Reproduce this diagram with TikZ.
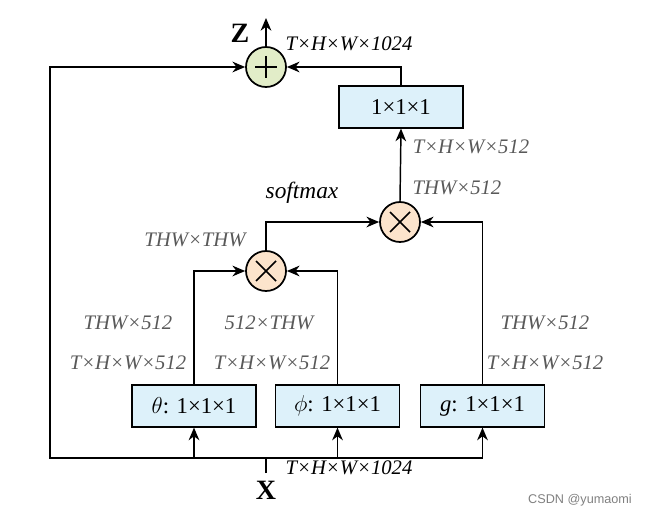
\documentclass[tikz,border=0pt]{standalone}
\usepackage{fontspec}
\setmainfont{Liberation Serif}
\newfontfamily\markfont{Liberation Sans}
\usetikzlibrary{arrows.meta}

\definecolor{convblue}{RGB}{221,241,250}
\definecolor{sumgreen}{RGB}{226,237,200}
\definecolor{mulpeach}{RGB}{252,228,204}
\definecolor{dimgray}{RGB}{89,89,89}

\begin{document}
\begin{tikzpicture}[x=0.75pt, y=-0.75pt,
	conv/.style = {draw, line width=1.4pt, fill=convblue, minimum width=93pt, minimum height=31pt, inner sep=0pt, font=\fontsize{17}{20}\selectfont},
	opnode/.style = {circle, draw, line width=1.3pt, minimum size=30pt, inner sep=0pt},
	arr/.style = {line width=1.1pt, -{Stealth[length=9.5pt, width=8pt, inset=3pt]}},
	wire/.style = {line width=1.1pt},
	dimlabel/.style = {font=\fontsize{15.5}{18}\selectfont\itshape, text=dimgray},
	shapelabel/.style = {font=\fontsize{15.5}{18}\selectfont\itshape},
	tensor/.style = {font=\fontsize{21}{24}\selectfont\bfseries}]
	\useasboundingbox (0,0) rectangle (645,517);

	% operations
	\begin{scope}
		\node [opnode, fill=sumgreen] (plus) at (266,67) {};
		\draw [line width=1.2pt] (plus.center) ++(-11,0) -- ++(22,0);
		\draw [line width=1.2pt] (plus.center) ++(0,-11) -- ++(0,22);

		\node [opnode, fill=mulpeach] (mulA) at (266,271) {};
		\draw [line width=1.2pt] (mulA.center) ++(-10,-10) -- ++(20,20);
		\draw [line width=1.2pt] (mulA.center) ++(-10,10) -- ++(20,-20);

		\node [opnode, fill=mulpeach] (mulB) at (400,222) {};
		\draw [line width=1.2pt] (mulB.center) ++(-10,-10) -- ++(20,20);
		\draw [line width=1.2pt] (mulB.center) ++(-10,10) -- ++(20,-20);
	\end{scope}

	% 1x1x1 convolutions
	\begin{scope}
		\node [conv] (proj) at (401,107) {1×1×1};
		\node [conv] (theta) at (194,406) {$\theta$: 1×1×1};
		\node [conv] (phi) at (337.5,406) {$\phi$: 1×1×1};
		\node [conv] (gfun) at (482.5,406) {\textit{g}: 1×1×1};
	\end{scope}

	% input and output
	\begin{scope}
		\coordinate (xin) at (266,473);
		\coordinate (split) at (266,458);
		\coordinate (skip) at (50,458);
		\coordinate (zout) at (266,18);
		\node [tensor] (xlabel) at (266,490) {X};
		\node [tensor] (zlabel) at (240,33) {Z};
	\end{scope}

	% connections
	\begin{scope}
		\draw [wire] (xin) -- (split);
		\draw [arr] (split) -| (theta.south);
		\draw [arr] (split) -| (phi.south);
		\draw [arr] (split) -| (gfun.south);
		\draw [arr] (split) -- (skip) |- (plus.west);
		\draw [arr] (theta.north) |- (mulA.west);
		\draw [arr] (phi.north) |- (mulA.east);
		\draw [arr] (mulA.north) |- (mulB.west);
		\draw [arr] (gfun.north) |- (mulB.east);
		\draw [arr] (mulB.north) -- (proj.south);
		\draw [arr] (proj.north) |- (plus.east);
		\draw [arr] (plus.north) -- (zout);
	\end{scope}

	% shapes
	\begin{scope}
		\node [shapelabel] (inshape) at (349,468) {T×H×W×1024};
		\node [shapelabel] (outshape) at (349,44) {T×H×W×1024};
		\node [shapelabel, font=\fontsize{17.5}{20}\selectfont\itshape] (softmax) at (302,193) {softmax};
		\node [dimlabel] (thetaA) at (128,363) {T×H×W×512};
		\node [dimlabel] (thetaB) at (128,323) {THW×512};
		\node [dimlabel] (phiA) at (272,363) {T×H×W×512};
		\node [dimlabel] (phiB) at (269,323) {512×THW};
		\node [dimlabel] (gA) at (545,363) {T×H×W×512};
		\node [dimlabel] (gB) at (545,323) {THW×512};
		\node [dimlabel] (affinity) at (195,240) {THW×THW};
		\node [dimlabel] (yB) at (457,188) {THW×512};
		\node [dimlabel] (yA) at (471,147) {T×H×W×512};
	\end{scope}

	\node [font=\markfont\fontsize{9.5}{11}\selectfont, text=gray] (mark) at (580,500) {CSDN @yumaomi};
\end{tikzpicture}
\end{document}
